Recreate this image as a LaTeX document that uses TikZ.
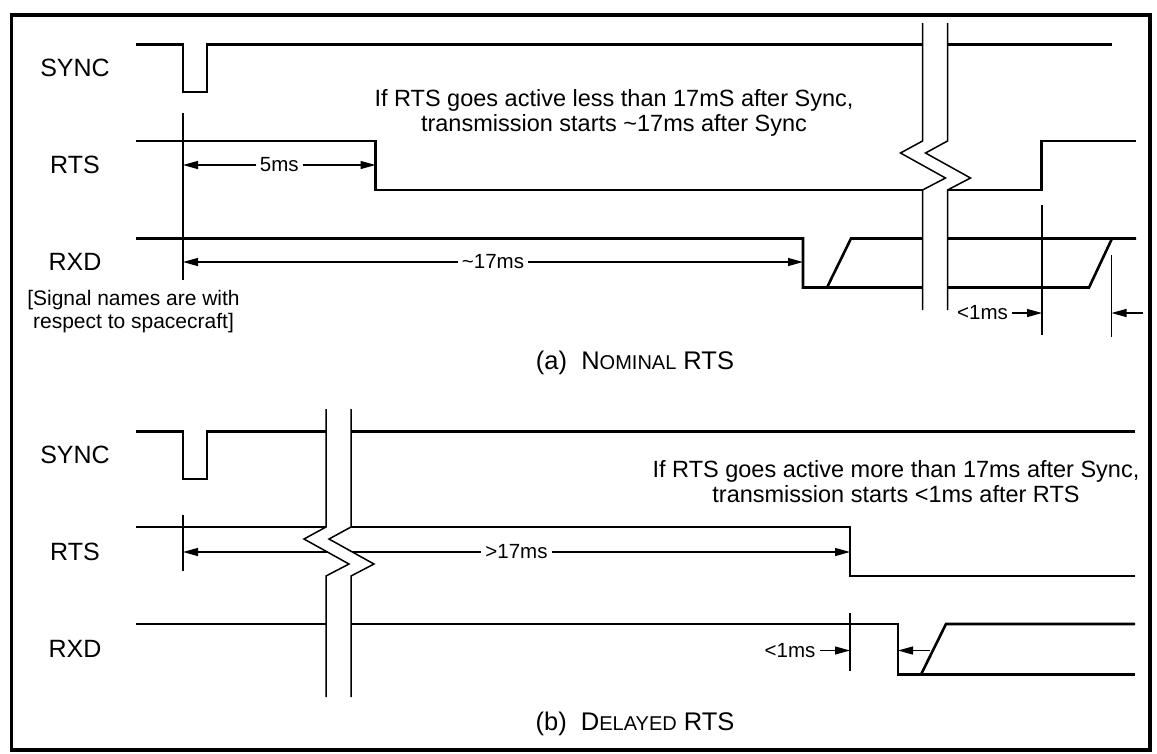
\documentclass[tikz,border=0pt]{standalone}
\usepackage{fontspec}
\setmainfont{Liberation Sans}
\usetikzlibrary{arrows.meta}

\tikzset{
  wave/.style={line width=2.6pt},
  cut/.style={line width=1.5pt},
  tick/.style={line width=1.2pt},
  dim/.style={line width=1.2pt, {Triangle[length=15pt,width=8pt]}-{Triangle[length=15pt,width=8pt]}},
  dimto/.style={line width=1.2pt, -{Triangle[length=15pt,width=8pt]}},
  dimlbl/.style={fill=white, inner sep=4pt, font=\fontsize{20.5}{22}\selectfont},
  signame/.style={font=\fontsize{25}{28}\selectfont},
  note/.style={align=center, font=\fontsize{23.5}{25}\selectfont},
  caption/.style={font=\fontsize{25.5}{28}\selectfont}
}
\newcommand\smallcap[1]{{\fontsize{20}{22}\selectfont #1}}

\begin{document}
\begin{tikzpicture}[x=1pt,y=-1pt]
\useasboundingbox (0,0) rectangle (1157,753);
\draw[line width=3.2pt] (11.5,15) rectangle (1150,750);

% (a) nominal RTS
\node[signame] (async) at (75,68) {SYNC};
\node[signame] (arts) at (75,165) {RTS};
\node[signame] (arxd) at (75,262) {RXD};
\node[align=center, font=\fontsize{21}{22.5}\selectfont] (aside) at (133.5,311.5) {[Signal names are with\\respect to spacecraft]};
\node[note] (anote) at (614,113) {If RTS goes active less than 17mS after Sync,\\transmission starts \textasciitilde17ms after Sync};

\draw[wave] (136,44.5) -- (183,44.5) -- (183,92) -- (207,92) -- (207,44.5) -- (1112,44.5);
\draw[wave] (136,141) -- (375.5,141) -- (375.5,190) -- (1041.5,190) -- (1041.5,141) -- (1136,141);
\draw[wave] (136,238.5) -- (803,238.5) -- (803,287.5) -- (1089,287.5) -- (1112,238.5);
\draw[wave] (827,287.5) -- (851,238.5) -- (1136,238.5);

\draw[tick] (183,113) -- (183,280);
\draw[tick] (1042,205) -- (1042,335);
\draw[tick] (1111.5,255) -- (1111.5,337);

\coordinate (a5l) at (183,165);
\coordinate (a5r) at (375.5,165);
\coordinate (a17l) at (183,262);
\coordinate (a17r) at (803,262);
\coordinate (a1r) at (1042,313);
\coordinate (a2l) at (1143,313);
\coordinate (a2r) at (1111.5,313);
\draw[dim] (a5l) -- node[dimlbl] (a5) {5ms} (a5r);
\draw[dim] (a17l) -- node[dimlbl] (a17) {\textasciitilde17ms} (a17r);
\node[dimlbl] (a1) at (982.5,313) {<1ms};
\draw[dimto] (a1) -- (a1r);
\draw[dimto] (a2l) -- (a2r);

\fill[white] (922.5,23) -- (922.5,141) -- ++(-22,12) -- ++(45,25) -- ++(-23,12) -- (922.5,310)
  -- (947.5,310) -- (947.5,190) -- ++(23,-12) -- ++(-45,-25) -- ++(22,-12) -- (947.5,23) -- cycle;
\foreach \dx in {0,25}
  \draw[cut] (922.5+\dx,23) -- ++(0,118) -- ++(-22,12) -- ++(45,25) -- ++(-23,12) -- (922.5+\dx,310);

\node[caption] (acap) at (635,363) {(a)\ \ N\smallcap{OMINAL} RTS};

% (b) delayed RTS
\node[signame] (bsync) at (75,455) {SYNC};
\node[signame] (brts) at (75,551.5) {RTS};
\node[signame] (brxd) at (75,649) {RXD};
\node[note] (bnote) at (896,481.5) {If RTS goes active more than 17ms after Sync,\\transmission starts <1ms after RTS};

\draw[wave] (136,431.5) -- (183,431.5) -- (183,479) -- (207,479) -- (207,431.5) -- (1135,431.5);
\draw[wave] (136,527) -- (850,527) -- (850,576) -- (1135,576);
\draw[wave] (136,624) -- (898,624) -- (898,674.5) -- (1135,674.5);
\draw[wave] (921,674.5) -- (946,624) -- (1135,624);

\draw[tick] (183,515) -- (183,571);
\draw[tick] (850,613) -- (850,671);

\coordinate (b17l) at (183,552);
\coordinate (b17r) at (850,552);
\coordinate (b1r) at (850,650.5);
\coordinate (b2l) at (930,650.5);
\coordinate (b2r) at (898,650.5);
\draw[dim] (b17l) -- node[dimlbl] (b17) {>17ms} (b17r);
\node[dimlbl] (b1) at (790,650.5) {<1ms};
\draw[dimto] (b1) -- (b1r);
\draw[dimto] (b2l) -- (b2r);

\fill[white] (326,409) -- (326,527) -- ++(-22,12) -- ++(45,25) -- ++(-23,12) -- (326,697)
  -- (351,697) -- (351,576) -- ++(23,-12) -- ++(-45,-25) -- ++(22,-12) -- (351,409) -- cycle;
\foreach \dx in {0,25}
  \draw[cut] (326+\dx,409) -- ++(0,118) -- ++(-22,12) -- ++(45,25) -- ++(-23,12) -- (326+\dx,697);

\node[caption] (bcap) at (635,724) {(b)\ \ D\smallcap{ELAYED} RTS};
\end{tikzpicture}
\end{document}
